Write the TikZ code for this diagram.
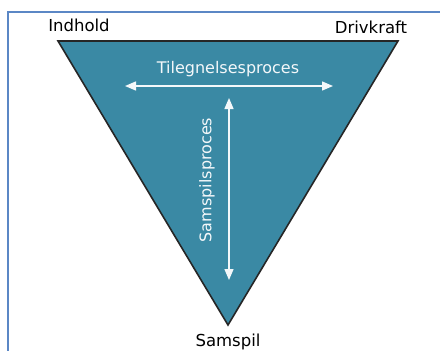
\documentclass[tikz,border=0pt]{standalone}
\usepackage{fontspec}
\setmainfont{DejaVu Sans}
\usetikzlibrary{arrows.meta}
\definecolor{tealfill}{HTML}{3A89A4}
\definecolor{frameblue}{HTML}{5B87C5}
\definecolor{arrowwhite}{HTML}{F4F8FA}
\tikzset{
  corner/.style={font=\fontsize{16.5}{18}\selectfont, text=black, inner sep=0pt},
  inlabel/.style={font=\fontsize{16}{18}\selectfont, text=arrowwhite, inner sep=0pt},
  twoway/.style={draw=arrowwhite, line width=1.5pt, {Triangle[width=9pt,length=11pt]}-{Triangle[width=9pt,length=11pt]}},
}
\begin{document}
\begin{tikzpicture}[x=1pt,y=-1pt]
\useasboundingbox (0,0) rectangle (440,351);
\fill[white] (0,0) rectangle (440,351);
\draw[frameblue, line width=1.8pt] (8,351) -- (8,12) -- (440,12);
\coordinate (tl) at (58,41);
\coordinate (tr) at (398,41);
\coordinate (bt) at (228,325);
\filldraw[fill=tealfill, draw=black!85, line width=1.6pt, line join=miter] (tl) -- (tr) -- (bt) -- cycle;
\node[corner] (ind) at (79,25) {Indhold};
\node[corner] (drv) at (371,27) {Drivkraft};
\node[corner] (sam) at (228,342) {Samspil};
\node[inlabel] (til) at (228,69) {Tilegnelsesproces};
\node[inlabel, rotate=90] (ssp) at (207,180) {Samspilsproces};
\coordinate (hl) at (125,86);
\coordinate (hr) at (333,86);
\coordinate (vt) at (229,98);
\coordinate (vb) at (229,280);
\draw[twoway] (hl) -- (hr);
\draw[twoway] (vt) -- (vb);
\end{tikzpicture}
\end{document}
